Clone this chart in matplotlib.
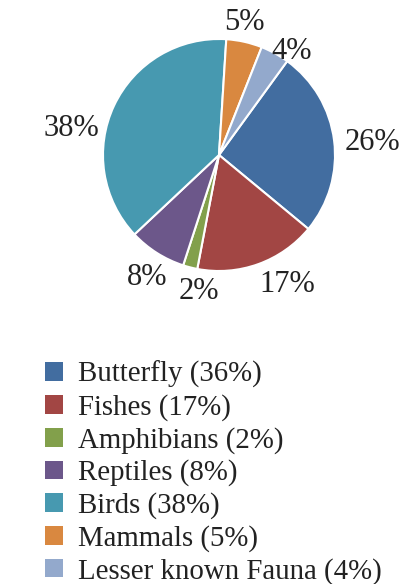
import matplotlib
matplotlib.use('Agg')
import matplotlib.pyplot as plt
from matplotlib.patches import Patch

labels = ['Butterfly', 'Fishes', 'Amphibians', 'Reptiles', 'Birds', 'Mammals', 'Lesser known Fauna']
values = [26, 17, 2, 8, 38, 5, 4]
legend_pct = [36, 17, 2, 8, 38, 5, 4]
colors = ['#426DA0', '#A24644', '#82A04B', '#6C578A', '#4799B0', '#D98840', '#93A9CC']
# label spots (in pie radii) as placed in the original
label_pos = [(1.32, 0.11), (0.59, -1.12), (-0.17, -1.18), (-0.62, -1.06),
             (-1.27, 0.23), (0.22, 1.14), (0.63, 0.89)]

plt.rcParams['font.family'] = ['Liberation Serif', 'DejaVu Serif']
txt_color = '#222222'

fig = plt.figure(figsize=(4.02, 5.84), dpi=100)
W, H = 402, 584
cx, cy, r = 219, 155, 116
ax = fig.add_axes([(cx - r) / W, 1 - (cy + r) / H, 2 * r / W, 2 * r / H])

wedges, texts, autotexts = ax.pie(values, colors=colors, startangle=54, counterclock=False,
                                  autopct='%d%%', pctdistance=1.24,
                                  wedgeprops=dict(edgecolor='white', linewidth=1.5),
                                  textprops=dict(fontsize=22, color=txt_color))
for t, p in zip(autotexts, label_pos):
    t.set_position(p)
    t.set_ha('center')
    t.set_va('center')
ax.set_xlim(-1, 1)
ax.set_ylim(-1, 1)
ax.set_aspect('equal')

handles = [Patch(facecolor=c, edgecolor='none') for c in colors]
leg_labels = ['%s (%d%%)' % (l, p) for l, p in zip(labels, legend_pct)]
leg = fig.legend(handles, leg_labels, loc='upper left', bbox_to_anchor=(45 / W, 1 - 361 / H),
                 frameon=False, fontsize=20.8, handlelength=0.62, handleheight=0.62,
                 handletextpad=0.52, labelspacing=0.2, borderpad=0, borderaxespad=0)
for t in leg.get_texts():
    t.set_color(txt_color)

fig.savefig('out.png', dpi=100)
